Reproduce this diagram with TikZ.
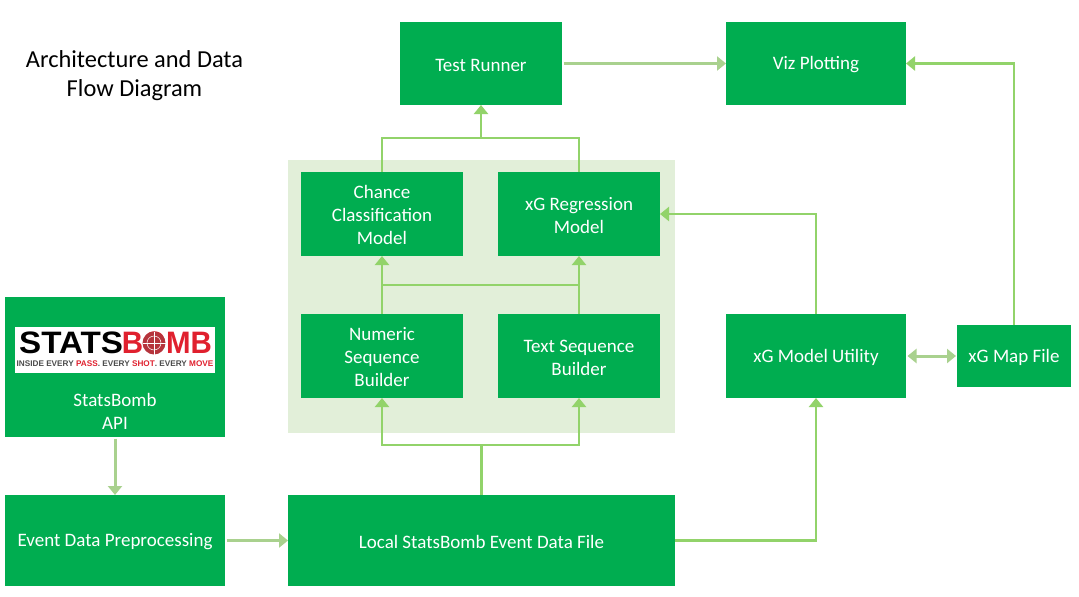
\documentclass[tikz,border=0pt]{standalone}
\usepackage{fontspec}
\setmainfont{Carlito}
\newfontfamily\logofont{Liberation Sans}
\usetikzlibrary{arrows.meta}
\definecolor{boxgreen}{HTML}{00AD50}
\definecolor{panelgreen}{HTML}{E2EFD9}
\definecolor{linkpale}{HTML}{A9D18E}
\definecolor{linkbright}{HTML}{92D36A}
\definecolor{bombred}{HTML}{E0202E}
\definecolor{bombdark}{HTML}{B5343C}
\tikzset{
  x=1pt,y=-1pt,
  box/.style={fill=boxgreen,text=white,align=center,inner sep=0pt,outer sep=0pt,font=\fontsize{19}{23}\selectfont},
  palelink/.style={draw=linkpale,line width=3pt},
  brightlink/.style={draw=linkbright,line width=2.2pt},
  tipped/.style={-{Triangle[length=9pt,width=14pt]}},
  bothtipped/.style={{Triangle[length=9pt,width=14pt]}-{Triangle[length=9pt,width=14pt]}},
  heading/.style={align=center,inner sep=0pt,font=\fontsize{24.4}{29}\selectfont},
  logotext/.style={inner sep=0pt,transform shape},
}
\newcommand{\greenbox}[6]{\node[box,minimum width=#4-#2,minimum height=#5-#3] (#1) at ({(#2+#4)/2},{(#3+#5)/2}) {\rule{0pt}{15.5pt}#6};}
\begin{document}
\begin{tikzpicture}
\useasboundingbox (0,0) rectangle (1079,597);
\fill[white] (0,0) rectangle (1079,597);
\node[heading] (title) at (134.5,75.5) {Architecture and Data\\Flow Diagram};
\fill[panelgreen] (288,160) rectangle (675,433);
\greenbox{test}{400}{22}{562}{105}{Test Runner}
\greenbox{viz}{726}{22}{906}{105}{Viz Plotting}
\greenbox{chance}{301}{172}{463}{256}{Chance\\Classification\\Model}
\greenbox{xgreg}{498}{172}{660}{256}{xG Regression\\Model}
\greenbox{numeric}{301}{314}{463}{398}{Numeric\\Sequence\\Builder}
\greenbox{textseq}{498}{314}{660}{398}{Text Sequence\\Builder}
\greenbox{util}{726}{314}{906}{398}{xG Model Utility}
\greenbox{map}{957}{325}{1071}{387}{xG Map File}
\greenbox{api}{5}{297}{225}{437}{}
\greenbox{prep}{5}{495}{225}{586}{Event Data Preprocessing}
\greenbox{local}{288}{495}{675}{586}{Local StatsBomb Event Data File}
\node[box,anchor=center] (apilabel) at (115,411) {StatsBomb\\API};
% logo
\node[fill=white,minimum width=200pt,minimum height=46pt,inner sep=0pt,outer sep=0pt] (logo) at (115,350) {};
\node[logotext,xscale=1.07,anchor=west] (logoblack) at (19,343) {\logofont\bfseries\fontsize{31}{31}\selectfont\textcolor{black}{STATS}};
\node[logotext,xscale=0.95,anchor=east] (logored) at (212,343) {\logofont\bfseries\fontsize{31}{31}\selectfont\textcolor{bombred}{BOMB}};
\fill[bombdark] (154,343) circle (11.5);
\draw[white,line width=0.5pt] (154,343) circle (7);
\draw[white,line width=0.5pt] (142.5,343) -- (165.5,343) (154,331.5) -- (154,354.5);
\node[inner sep=0pt] (logotag) at (115,363.5) {\logofont\bfseries\fontsize{8.2}{8}\selectfont\textcolor{black!70}{INSIDE EVERY }\textcolor{bombred}{PASS}\textcolor{black!70}{. EVERY }\textcolor{bombred}{SHOT}\textcolor{black!70}{. EVERY }\textcolor{bombred}{MOVE}};
% connectors
\coordinate (topjoin) at (481,138);
\coordinate (midjoin) at (481,285);
\coordinate (lowjoin) at (481.5,445);
\draw[palelink,tipped,shorten <=1.5pt] (api) -- (prep);
\draw[palelink,tipped,shorten <=1.5pt] (prep) -- (local);
\draw[palelink,tipped,shorten <=1.5pt] (test) -- (viz);
\draw[palelink,bothtipped,shorten <=1.5pt,shorten >=1pt] (util) -- (map);
\draw[brightlink,tipped] (topjoin) -- (test.south);
\draw[brightlink] (chance.north) |- (topjoin);
\draw[brightlink] (xgreg.north) |- (topjoin);
\draw[brightlink,tipped] (numeric) -- (chance);
\draw[brightlink,tipped] (textseq) -- (xgreg);
\draw[brightlink] (numeric.north |- midjoin) -- (textseq.north |- midjoin);
\draw[brightlink] (local.north) -- (lowjoin);
\draw[brightlink,tipped] (lowjoin) -| (numeric.south);
\draw[brightlink,tipped] (lowjoin) -| (textseq.south);
\draw[brightlink,tipped] (local.east) -| (util.south);
\draw[brightlink,tipped] (util.north) |- (xgreg.east);
\draw[brightlink,tipped] (map.north) |- (viz.east);
\end{tikzpicture}
\end{document}
